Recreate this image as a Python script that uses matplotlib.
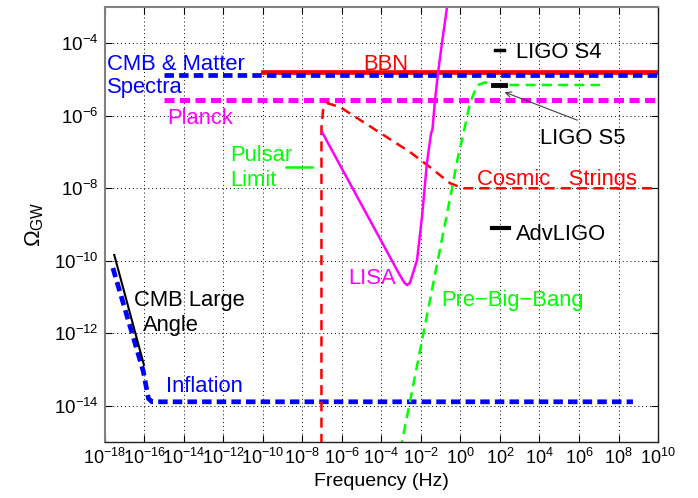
import numpy as np
import matplotlib
matplotlib.use("Agg")
import matplotlib.pyplot as plt

plt.rcParams["font.family"] = ["Liberation Sans", "DejaVu Sans"]
plt.rcParams["mathtext.fontset"] = "custom"
plt.rcParams["mathtext.rm"] = "Liberation Sans"
plt.rcParams["mathtext.it"] = "Liberation Sans:italic"
plt.rcParams["mathtext.bf"] = "Liberation Sans:bold"

BLUE = "#0000ff"
RED = "#ff0000"
MAG = "#ff00ff"
GREEN = "#00ff00"

# all values are log10(frequency / Hz) and log10(Omega_GW)
bbn_f = [-10, 10]
bbn_om = [-4.8, -4.8]
cmb_f = [-15, 10]
cmb_om = [-4.88, -4.88]
planck_f = [-15, 10]
planck_om = [-5.57, -5.57]
pulsar_f = [-8.84, -7.5]
pulsar_om = [-7.42, -7.42]
strings_f = [-7.04, -7.04, -6.96, -6.76, -6.1, -2.56, -1.54, -0.53, 0.13, 10]
strings_om = [-15.5, -6.34, -5.85, -5.65, -5.76, -7.0, -7.42, -7.86, -8.0, -8.0]
lisa_f = [-7.01, -3.16, -2.85, -2.71, -2.56, -2.2, -1.95, -1.70, -1.49, -1.42,
          -1.29, -1.14, -0.94, -0.68, -0.6]
lisa_om = [-6.45, -10.31, -10.6, -10.67, -10.61, -9.98, -8.79, -7.31, -6.48, -6.38,
           -5.57, -4.83, -4.0, -3.0, -2.7]
pbb_f = [-3.2, -0.43, -0.13, 0.13, 0.48, 0.84, 1.24, 1.6, 7.06]
pbb_om = [-15.66, -8.0, -7.14, -6.53, -5.65, -5.16, -5.08, -5.15, -5.15]
infl_f = [-17.6, -16.06, -15.8, -15.62, 8.73]
infl_om = [-10.2, -13.05, -13.8, -13.89, -13.89]
cmb_large_f = [-17.53, -16.03]
cmb_large_om = [-9.84, -12.87]
ligo_s4_f = [1.75, 2.2]
ligo_s4_om = [-4.18, -4.18]
ligo_s5_f = [1.65, 2.25]
ligo_s5_om = [-5.16, -5.16]
advligo_f = [1.58, 2.47]
advligo_om = [-9.1, -9.1]

# text labels: (text, log f, log omega at baseline, colour)
labels = [
    ("CMB & Matter", -17.92, -4.744, BLUE),
    ("Spectra", -17.92, -5.364, BLUE),
    ("Planck", -14.86, -6.23, MAG),
    ("Pulsar", -11.67, -7.25, GREEN),
    ("Limit", -11.67, -7.94, GREEN),
    ("BBN", -4.94, -4.73, RED),
    ("LIGO S4", 2.81, -4.40, "k"),
    ("LIGO S5", 4.03, -6.77, "k"),
    ("Cosmic   Strings", 0.84, -7.90, RED),
    ("AdvLIGO", 2.81, -9.44, "k"),
    ("LISA", -5.68, -10.63, MAG),
    ("Pre\u2212Big\u2212Bang", -0.95, -11.245, GREEN),
    ("CMB Large", -16.52, -11.245, "k"),
    ("Angle", -16.06, -11.93, "k"),
    ("Inflation", -14.93, -13.63, BLUE),
]


def p(v):
    return 10.0 ** np.array(v)


fig = plt.figure(figsize=(6.98, 4.98), dpi=100)
ax = fig.add_axes([0.1504, 0.1124, 0.7923, 0.8735])

dash_thick = (2.0, 1.1)
ax.plot(p(infl_f), p(infl_om), color=BLUE, lw=3.4, dashes=dash_thick)
ax.plot(p(bbn_f), p(bbn_om), color=RED, lw=3.4)
ax.plot(p(cmb_f), p(cmb_om), color=BLUE, lw=3.4, dashes=dash_thick)
ax.plot(p(planck_f), p(planck_om), color=MAG, lw=3.6, dashes=dash_thick)
ax.plot(p(strings_f), p(strings_om), color=RED, lw=1.8, dashes=(4, 2.5))
ax.plot(p(lisa_f), p(lisa_om), color=MAG, lw=1.8)
ax.plot(p(pbb_f), p(pbb_om), color=GREEN, lw=1.8, dashes=(4, 2.5))
ax.plot(p(pulsar_f), p(pulsar_om), color=GREEN, lw=1.8)
ax.plot(p(cmb_large_f), p(cmb_large_om), color="k", lw=1.5)
ax.plot(p(ligo_s4_f), p(ligo_s4_om), color="k", lw=2.5)
ax.plot(p(ligo_s5_f), p(ligo_s5_om), color="k", lw=3.5)
ax.plot(p(advligo_f), p(advligo_om), color="k", lw=3.0)

for txt, lf, lo, c in labels:
    ax.text(10.0 ** lf, 10.0 ** lo, txt, color=c, fontsize=15.8,
            ha="left", va="baseline")

ax.annotate("", xy=(10 ** 2.1, 10 ** -5.32), xytext=(10 ** 6.05, 10 ** -6.15),
            arrowprops=dict(arrowstyle="->", color="#404040", lw=0.8))

ax.set_xscale("log")
ax.set_yscale("log")
ax.set_xlim(1e-18, 1e10)
ax.set_ylim(1e-15, 1e-3)
xt = np.arange(-18, 11, 2)
yt = np.arange(-14, -3, 2)
ax.set_xticks(10.0 ** xt)
ax.set_xticklabels([f"$10^{{{v}}}$" for v in xt])
ax.set_yticks(10.0 ** yt)
ax.set_yticklabels([f"$10^{{{v}}}$" for v in yt])
ax.minorticks_off()
ax.tick_params(direction="in", length=5, width=0.8, top=True, right=True,
               labelsize=13, pad=4.5)
ax.tick_params(axis="y", labelsize=13.5)
ax.grid(True, color="k", linestyle=(0, (1, 3)), lw=0.7)
ax.set_axisbelow(True)
for side in ["left", "top"]:
    ax.spines[side].set_color("#808080")
    ax.spines[side].set_linewidth(1.5)
for side in ["right", "bottom"]:
    ax.spines[side].set_color("#202020")
    ax.spines[side].set_linewidth(1.0)

ax.set_xlabel("Frequency (Hz)", fontsize=14)
ax.xaxis.set_label_coords(0.5, -0.072)
ax.set_ylabel(r"$\Omega_{\rm GW}$", fontsize=16, labelpad=6)

plt.savefig("out.png", dpi=100)
